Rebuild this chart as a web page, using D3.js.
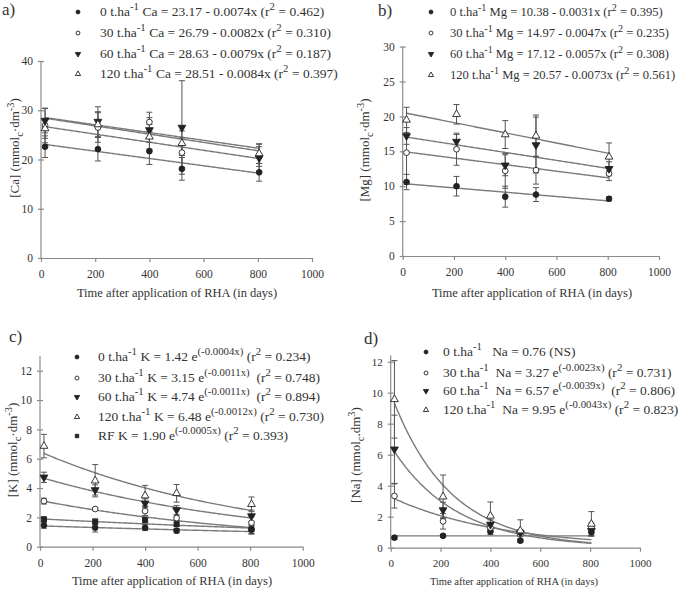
<!DOCTYPE html>
<html><head><meta charset="utf-8">
<script src="https://cdn.jsdelivr.net/npm/d3@7"></script>
<style>body{margin:0;background:#fff}svg{display:block}text{font-family:"Liberation Serif","Tinos","Times New Roman",serif;white-space:pre}</style>
</head><body><svg id="c" width="682" height="589"></svg>
<script>
// ---------------- DATA ----------------
const days = [15, 210, 400, 520, 805];
const doseLabels = ["0 t.ha", "30 t.ha", "60 t.ha", "120 t.ha"];
const xTicks = [0, 200, 400, 600, 800, 1000];

const caMeans = [[22.6, 22.1, 21.7, 18.1, 17.4], [26.9, 26.5, 27.6, 21.4, 20.6], [27.9, 27.7, 26.0, 26.5, 20.3], [26.3, 27.1, 24.6, 23.3, 21.2]];
const caErrs  = [[2.2, 2.4, 2.7, 2.3, 1.8], [3.5, 3.0, 2.0, 3.0, 2.0], [2.5, 3.0, 2.5, 9.5, 2.8], [2.0, 2.6, 2.5, 2.5, 2.0]];
const caFits  = [[23.17, -0.0074, 0.462], [26.79, -0.0082, 0.310], [28.63, -0.0079, 0.187], [28.51, -0.0084, 0.397]];
const caTicks = [0, 10, 20, 30, 40];

const mgMeans = [[10.6, 10.0, 8.5, 8.8, 8.2], [14.8, 15.3, 12.2, 12.3, 11.8], [17.2, 16.4, 13.0, 15.9, 12.5], [19.5, 20.3, 17.4, 17.2, 14.2]];
const mgErrs  = [[1.1, 1.4, 1.5, 1.0, 0.3], [4.5, 2.3, 2.5, 2.0, 1.0], [1.2, 1.0, 1.5, 4.0, 1.0], [1.8, 1.4, 2.0, 3.0, 2.0]];
const mgFits  = [[10.38, -0.0031, 0.395], [14.97, -0.0047, 0.235], [17.12, -0.0057, 0.308], [20.57, -0.0073, 0.561]];
const mgTicks = [0, 5, 10, 15, 20, 25, 30];

const kLabels = ["0 t.ha", "30 t.ha", "60 t.ha", "120 t.ha", "RF"];
const kMeans = [[1.46, 1.30, 1.30, 1.09, 1.15], [3.11, 2.57, 2.43, 1.95, 1.64], [4.73, 3.87, 2.96, 2.50, 2.09], [6.86, 4.50, 3.48, 3.64, 2.89], [1.87, 1.70, 1.82, 1.53, 1.20]];
const kErrs  = [[0.2, 0.3, 0.2, 0.15, 0.3], [0.2, 0.1, 0.3, 0.15, 0.4], [0.35, 0.35, 0.3, 0.3, 0.4], [0.8, 1.1, 0.7, 0.6, 0.5], [0.15, 0.2, 0.2, 0.15, 0.3]];
const kFits  = [[1.42, -0.0004, 0.234], [3.15, -0.0011, 0.748], [4.74, -0.0011, 0.894], [6.48, -0.0012, 0.730], [1.90, -0.0005, 0.393]];
const kTicks = [0, 2, 4, 6, 8, 10, 12];

const naMeans = [[0.65, 0.77, 1.05, 0.45, 1.0], [3.34, 1.70, 1.30, 0.85, 1.30], [6.35, 2.43, 1.50, 0.95, 1.10], [9.57, 3.29, 2.05, 1.10, 1.53]];
const naErrs  = [[0.1, 0.1, 0.2, 0.1, 0.2], [0.78, 0.5, 0.3, 0.3, 0.3], [2.2, 0.5, 0.3, 0.2, 0.3], [2.5, 1.4, 0.9, 0.7, 0.8]];
const naFits  = [[0.76, 0, null], [3.27, -0.0023, 0.731], [6.57, -0.0039, 0.806], [9.95, -0.0043, 0.823]];
const naTicks = [0, 2, 4, 6, 8, 10, 12];

// ---------------- DRAW ----------------
const svg = d3.select("#c");
const TXT = "#333", AX = "#8a8a8a", LN = "#7a7a7a", MK = "#222";
const FONT = "Liberation Serif, Tinos, Times New Roman, serif";

function rich(t, parts, fs) {
  let shift = 0;
  parts.forEach(p => {
    const [s, m] = typeof p === "string" ? [p, null] : p;
    const target = m === "sup" ? -0.42 * fs : m === "sub" ? 0.3 * fs : 0;
    const ts = t.append("tspan").attr("dy", target - shift).text(s);
    if (m) ts.attr("font-size", fs * 0.8);
    shift = target;
  });
}

const shapes = [
  {type: d3.symbolCircle, fill: MK, rot: 0},
  {type: d3.symbolCircle, fill: "#fff", rot: 0},
  {type: d3.symbolTriangle, fill: MK, rot: 180},
  {type: d3.symbolTriangle, fill: "#fff", rot: 0},
  {type: d3.symbolSquare, fill: MK, rot: 0}
];
function marker(g, i, x, y, size) {
  const s = shapes[i];
  g.append("path").attr("d", d3.symbol().type(s.type).size(size)())
    .attr("transform", `translate(${x},${y}) rotate(${s.rot})`)
    .attr("fill", s.fill).attr("stroke", MK).attr("stroke-width", 0.9);
}

function panel(cfg) {
  const g = svg.append("g").attr("font-family", FONT);
  const x = d3.scaleLinear().domain([0, 1000]).range([cfg.x0, cfg.x1]);
  const y = d3.scaleLinear().domain([0, cfg.yUnit]).range([cfg.y0, cfg.yAt]);
  const xa = g.append("g").attr("transform", `translate(0,${cfg.y0})`)
    .call(d3.axisBottom(x).tickValues(xTicks).tickFormat(d3.format("d")).tickSize(4).tickPadding(cfg.tickPad).tickSizeOuter(0));
  const ya = g.append("g").attr("transform", `translate(${cfg.x0},0)`)
    .call(d3.axisLeft(y).tickValues(cfg.yTicks).tickFormat(d3.format("d")).tickSize(3).tickPadding(5).tickSizeOuter(0));
  ya.select(".domain").attr("d", `M0,${y(0)}V${y(cfg.yMax)}`);
  ya.selectAll(".tick line").attr("x1", -3).attr("x2", 3);
  [xa, ya].forEach(a => {
    a.attr("font-family", FONT);
    a.selectAll(".domain,.tick line").attr("stroke", AX).attr("stroke-width", 1.2);
    a.selectAll("text").attr("fill", TXT).attr("font-size", cfg.tickFs);
  });
  // fit curves
  const samp = d3.range(days[0], days[days.length - 1] + 0.1, 5);
  cfg.fits.forEach(f => {
    const fn = cfg.exp ? (d => f[0] * Math.exp(f[1] * d)) : (d => f[0] + f[1] * d);
    g.append("path").datum(samp)
      .attr("d", d3.line().x(d => x(d)).y(d => y(fn(d))))
      .attr("fill", "none").attr("stroke", LN).attr("stroke-width", 1.4);
  });
  // error bars
  cfg.means.forEach((ser, si) => {
    ser.forEach((v, i) => {
      const e = cfg.errs[si][i], cx = x(days[i]);
      const eg = g.append("g").attr("stroke", "#555").attr("stroke-width", 1);
      eg.append("line").attr("x1", cx).attr("x2", cx).attr("y1", y(v - e)).attr("y2", y(v + e));
      [v - e, v + e].forEach(w => eg.append("line").attr("x1", cx - 3).attr("x2", cx + 3).attr("y1", y(w)).attr("y2", y(w)));
    });
  });
  // markers
  cfg.means.forEach((ser, si) => {
    ser.forEach((v, i) => marker(g, cfg.shapeIdx[si], x(days[i]), y(v), 26));
  });
  g.append("text").attr("x", cfg.xtX).attr("y", cfg.xtY).attr("text-anchor", "middle")
    .attr("font-size", cfg.xtFs).attr("fill", TXT).text("Time after application of RHA (in days)");
  const yt = g.append("text").attr("transform", `translate(${cfg.ytX},${cfg.ytY}) rotate(-90)`)
    .attr("text-anchor", "middle").attr("font-size", 13).attr("fill", TXT);
  rich(yt, cfg.ytParts, 13);
  g.append("text").attr("x", cfg.lbX).attr("y", cfg.lbY).attr("font-size", 17).attr("fill", TXT).text(cfg.key + ")");
  cfg.legend.forEach((row, i) => {
    marker(g, cfg.shapeIdx[i], cfg.lgMx, cfg.lgY[i] - 4, 12);
    const t = g.append("text").attr("x", cfg.lgTx).attr("y", cfg.lgY[i]).attr("font-size", cfg.lgFs).attr("fill", TXT);
    rich(t, row, cfg.lgFs);
  });
}

const fmtA = v => v.toFixed(2), fmtB = v => Math.abs(v).toFixed(4), fmtR = v => v.toFixed(3);
const linLegend = (name, fits) => fits.map((f, i) => [doseLabels[i], ["-1", "sup"],
  ` ${name} = ${fmtA(f[0])} - ${fmtB(f[1])}x (r`, ["2", "sup"], ` = ${fmtR(f[2])})`]);

const kLegend = kFits.map((f, i) => (i === 4 ? ["RF"] : [kLabels[i], ["-1", "sup"]]).concat(
  [` K = ${fmtA(f[0])} e`, [`(-${fmtB(f[1])}x)`, "sup"], (i === 1 || i === 2) ? "  (r" : " (r", ["2", "sup"], ` = ${fmtR(f[2])})`]));
const naLegend = naFits.map((f, i) => f[2] === null
  ? [doseLabels[i], ["-1", "sup"], `   Na = ${fmtA(f[0])} (NS)`]
  : [doseLabels[i], ["-1", "sup"], `  Na = ${fmtA(f[0])} e`, [`(-${fmtB(f[1])}x)`, "sup"], i === 2 ? "  (r" : " (r", ["2", "sup"], ` = ${fmtR(f[2])})`]);

panel({key: "a", x0: 41, x1: 312, y0: 258, yAt: 159.5, yUnit: 20, yMax: 40, yTicks: caTicks,
  means: caMeans, errs: caErrs, fits: caFits, exp: false, shapeIdx: [0, 1, 2, 3],
  tickFs: 11.5, tickPad: 8, xtX: 177, xtY: 297, xtFs: 12.5,
  ytX: 19, ytY: 148, ytParts: ["[Ca] (mmol", ["c", "sub"], "·dm", ["-3", "sup"], ")"],
  lbX: 2, lbY: 15, legend: linLegend("Ca", caFits), lgFs: 13.5, lgMx: 78, lgTx: 100, lgY: [16, 37, 58, 78]});

panel({key: "b", x0: 402.7, x1: 659, y0: 256, yAt: 151.3, yUnit: 15, yMax: 30, yTicks: mgTicks,
  means: mgMeans, errs: mgErrs, fits: mgFits, exp: false, shapeIdx: [0, 1, 2, 3],
  tickFs: 11.5, tickPad: 8, xtX: 532, xtY: 297, xtFs: 12.5,
  ytX: 369, ytY: 150, ytParts: ["[Mg] (mmol", ["c", "sub"], "·dm", ["-3", "sup"], ")"],
  lbX: 378, lbY: 16, legend: linLegend("Mg", mgFits), lgFs: 12.6, lgMx: 431, lgTx: 450, lgY: [16, 37, 58, 79]});

panel({key: "c", x0: 40, x1: 302.7, y0: 546.7, yAt: 458.7, yUnit: 6, yMax: 13, yTicks: kTicks,
  means: kMeans, errs: kErrs, fits: kFits, exp: true, shapeIdx: [0, 1, 2, 3, 4],
  tickFs: 11.5, tickPad: 8, xtX: 172, xtY: 585, xtFs: 12.5,
  ytX: 17, ytY: 450, ytParts: ["[K] (mmol", ["c", "sub"], "·dm", ["-3", "sup"], ")"],
  lbX: 9, lbY: 342, legend: kLegend, lgFs: 13.5, lgMx: 77, lgTx: 98, lgY: [361, 382, 401, 421, 440]});

panel({key: "d", x0: 390.7, x1: 640, y0: 547.7, yAt: 454.7, yUnit: 6, yMax: 12.4, yTicks: naTicks,
  means: naMeans, errs: naErrs, fits: naFits, exp: true, shapeIdx: [0, 1, 2, 3],
  tickFs: 11, tickPad: 8, xtX: 514, xtY: 585, xtFs: 10.5,
  ytX: 360, ytY: 455, ytParts: ["[Na] (mmol", ["c", "sub"], ".dm", ["3", "sup"], ")"],
  lbX: 364, lbY: 344, legend: naLegend, lgFs: 13.5, lgMx: 426, lgTx: 443, lgY: [356, 377, 395, 414]});
</script></body></html>
